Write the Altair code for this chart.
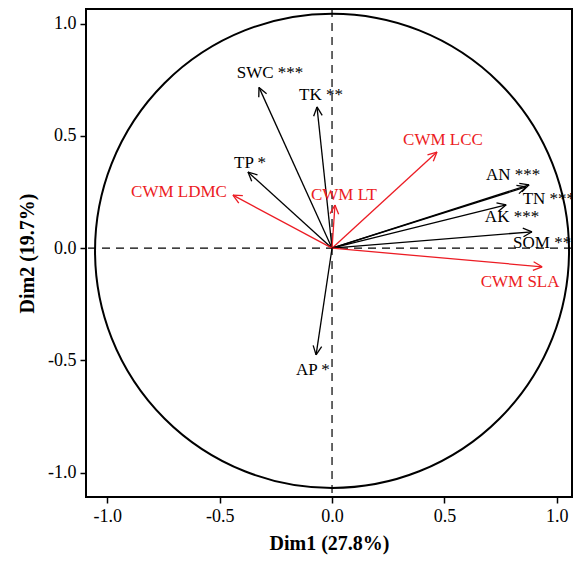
import altair as alt
import pandas as pd

# Variable names, loadings (arrow tips) and groups
names = ["SWC ***", "TK **", "TP *", "CWM LDMC", "CWM LT", "CWM LCC",
         "AN ***", "TN ***", "AK ***", "SOM **", "CWM SLA", "AP *"]
dim1 = [-0.325, -0.067, -0.374, -0.441, 0.013, 0.467,
        0.877, 0.864, 0.775, 0.890, 0.935, -0.071]
dim2 = [0.716, 0.629, 0.339, 0.236, 0.192, 0.428,
        0.282, 0.273, 0.193, 0.073, -0.083, -0.475]
group = ["soil", "soil", "soil", "cwm", "cwm", "cwm",
         "soil", "soil", "soil", "soil", "cwm", "soil"]
# label anchor positions (data units)
label_x = [-0.276, -0.049, -0.365, -0.681, 0.053, 0.494,
           0.806, 0.965, 0.801, 0.935, 0.837, -0.085]
label_y = [0.780, 0.682, 0.380, 0.251, 0.237, 0.482,
           0.326, 0.220, 0.139, 0.024, -0.150, -0.542]

df = pd.DataFrame({"name": names, "x": dim1, "y": dim2, "group": group,
                   "lx": label_x, "ly": label_y})

FONT = "Liberation Serif"
XDOM = [-1.095, 1.068]
YDOM = [-1.108, 1.065]
color_scale = alt.Scale(domain=["soil", "cwm"], range=["black", "#EC1C24"])

xs = alt.Scale(domain=XDOM, nice=False, zero=False)
ys = alt.Scale(domain=YDOM, nice=False, zero=False)
lab = "datum.value < 0 ? '-' + format(abs(datum.value), '.1f') : format(datum.value, '.1f')"

xaxis = alt.Axis(values=[-1.0, -0.5, 0.0, 0.5, 1.0], labelExpr=lab, title="Dim1 (27.8%)",
                 titlePadding=8)
yaxis = alt.Axis(values=[-1.0, -0.5, 0.0, 0.5, 1.0], labelExpr=lab, title="Dim2 (19.7%)",
                 titlePadding=10)

base = alt.Chart(df)

# correlation circle
circle = alt.Chart(pd.DataFrame({"cx": [0.0], "cy": [-0.012]})).mark_point(
    shape="circle", filled=False, stroke="black", strokeWidth=2, opacity=1,
    size=(2 * 237) ** 2
).encode(
    x=alt.X("cx:Q", scale=xs, axis=xaxis),
    y=alt.Y("cy:Q", scale=ys, axis=yaxis),
)

zero = pd.DataFrame({"z": [0.0]})
hline = alt.Chart(zero).mark_rule(color="black", strokeWidth=1.2, strokeDash=[8, 6]).encode(
    y=alt.Y("z:Q", scale=ys))
vline = alt.Chart(zero).mark_rule(color="black", strokeWidth=1.2, strokeDash=[8, 6]).encode(
    x=alt.X("z:Q", scale=xs))

shafts = base.transform_calculate(x0="0", y0="0").mark_rule(strokeWidth=1.3).encode(
    x=alt.X("x0:Q", scale=xs),
    y=alt.Y("y0:Q", scale=ys),
    x2="x:Q", y2="y:Q",
    color=alt.Color("group:N", scale=color_scale, legend=None),
)

HL = 0.044
HA = 0.45
heads = base.transform_calculate(
    ang="atan2(datum.y, datum.x)"
).transform_calculate(
    h1x=f"datum.x - {HL}*cos(datum.ang - {HA})",
    h1y=f"datum.y - {HL}*sin(datum.ang - {HA})",
    h2x=f"datum.x - {HL}*cos(datum.ang + {HA})",
    h2y=f"datum.y - {HL}*sin(datum.ang + {HA})",
)
head1 = heads.mark_rule(strokeWidth=1.3).encode(
    x=alt.X("x:Q", scale=xs), y=alt.Y("y:Q", scale=ys), x2="h1x:Q", y2="h1y:Q",
    color=alt.Color("group:N", scale=color_scale, legend=None))
head2 = heads.mark_rule(strokeWidth=1.3).encode(
    x=alt.X("x:Q", scale=xs), y=alt.Y("y:Q", scale=ys), x2="h2x:Q", y2="h2y:Q",
    color=alt.Color("group:N", scale=color_scale, legend=None))

labels = base.mark_text(font=FONT, fontSize=17, align="center", baseline="middle").encode(
    x=alt.X("lx:Q", scale=xs), y=alt.Y("ly:Q", scale=ys), text="name:N",
    color=alt.Color("group:N", scale=color_scale, legend=None))

chart = alt.layer(circle, hline, vline, shafts, head1, head2, labels).properties(
    width=486, height=488,
    autosize=alt.AutoSizeParams(type="none"),
    padding={"left": 86, "top": 9, "right": 1, "bottom": 65},
    background="white",
).configure_view(
    stroke="black", strokeWidth=2
).configure_axis(
    grid=False, domain=False, tickColor="black", tickSize=6, tickWidth=1.5,
    labelFont=FONT, labelFontSize=18, labelColor="black", labelPadding=4,
    titleFont=FONT, titleFontSize=20, titleFontWeight="bold", titleColor="black",
)

chart.save("out.html", embed_options={"renderer": "svg", "actions": False})
